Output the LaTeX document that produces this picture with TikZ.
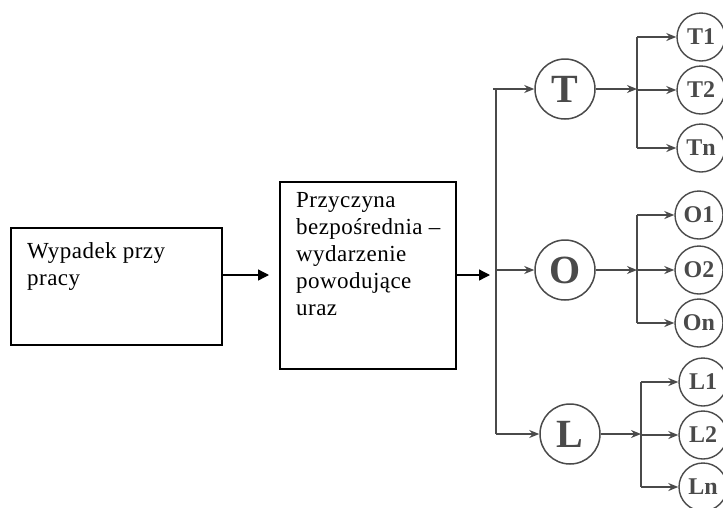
\documentclass[tikz,border=0pt]{standalone}
\usepackage{fontspec}
\setmainfont{Liberation Serif}
\usetikzlibrary{arrows.meta}
\definecolor{scan}{HTML}{4A4A4A}
\begin{document}
\begin{tikzpicture}[x=1pt,y=-1pt,
  box/.style={draw=black,line width=1.3pt,inner sep=0pt},
  txt/.style={font=\fontsize{23}{27}\selectfont\addfontfeatures{LetterSpace=2},align=left,anchor=north west,inner sep=0pt},
  blk/.style={-{Triangle[length=11pt,width=11pt]},line width=1.3pt},
  big/.style={circle,draw=scan,line width=1.5pt,minimum size=60pt,inner sep=0pt,text=scan,font=\fontsize{40}{40}\selectfont\bfseries},
  small/.style={circle,draw=scan,line width=1.4pt,minimum size=48pt,inner sep=0pt,text=scan,font=\fontsize{24}{24}\selectfont\bfseries},
  gar/.style={-{Stealth[length=10pt,width=8pt]},draw=scan,line width=1.4pt},
  gl/.style={draw=scan,line width=1.4pt}]
\useasboundingbox (0,0) rectangle (723,507);
% left boxes
\draw[box] (11,228) rectangle (222,345);
\node[txt] (t1) at (27,242) {Wypadek przy\\pracy};
\draw[box] (280,182) rectangle (456,369);
\node[txt] (t2) at (296,192) {Przyczyna\\bezpośrednia –\\wydarzenie\\powodujące\\uraz};
\coordinate (b1e) at (222,275);
\coordinate (b2w) at (269,275);
\coordinate (b2e) at (456,275);
\coordinate (a2t) at (490,275);
\draw[blk] (b1e) -- (b2w);
\draw[blk] (b2e) -- (a2t);
% big circles
\node[big] (T) at (565,89) {T};
\node[big] (O) at (565,270) {O};
\node[big] (L) at (570,434) {L};
% trunk
\coordinate (vt) at (496,89);
\coordinate (vb) at (496,434);
\coordinate (vs) at (493,89);
\draw[gl] (vt) -- (vb);
\draw[gar] (vs) -- (T);
\draw[gar] (496,270) -- (O);
\draw[gar] (vb) -- (L);
% small circles
\node[small] (T1) at (701,37) {T1};
\node[small] (T2) at (701,90) {T2};
\node[small] (Tn) at (701,148) {Tn};
\node[small] (O1) at (699,215) {O1};
\node[small] (O2) at (699,270) {O2};
\node[small] (On) at (699,323) {On};
\node[small] (L1) at (703,382) {L1};
\node[small] (L2) at (703,435) {L2};
\node[small] (Ln) at (703,487) {Ln};
% T branch
\coordinate (tbt) at (637,37);
\coordinate (tbb) at (637,148);
\draw[gar] (T) -- (637,89);
\draw[gl] (tbt) -- (tbb);
\draw[gar] (tbt) -- (T1);
\draw[gar] (637,90) -- (T2);
\draw[gar] (tbb) -- (Tn);
% O branch
\coordinate (obt) at (637,215);
\coordinate (obb) at (637,323);
\draw[gar] (O) -- (637,270);
\draw[gl] (obt) -- (obb);
\draw[gar] (obt) -- (O1);
\draw[gar] (637,270) -- (O2);
\draw[gar] (obb) -- (On);
% L branch
\coordinate (lbt) at (641,382);
\coordinate (lbb) at (641,487);
\draw[gar] (L) -- (641,434);
\draw[gl] (lbt) -- (lbb);
\draw[gar] (lbt) -- (L1);
\draw[gar] (641,435) -- (L2);
\draw[gar] (lbb) -- (Ln);
\end{tikzpicture}
\end{document}
